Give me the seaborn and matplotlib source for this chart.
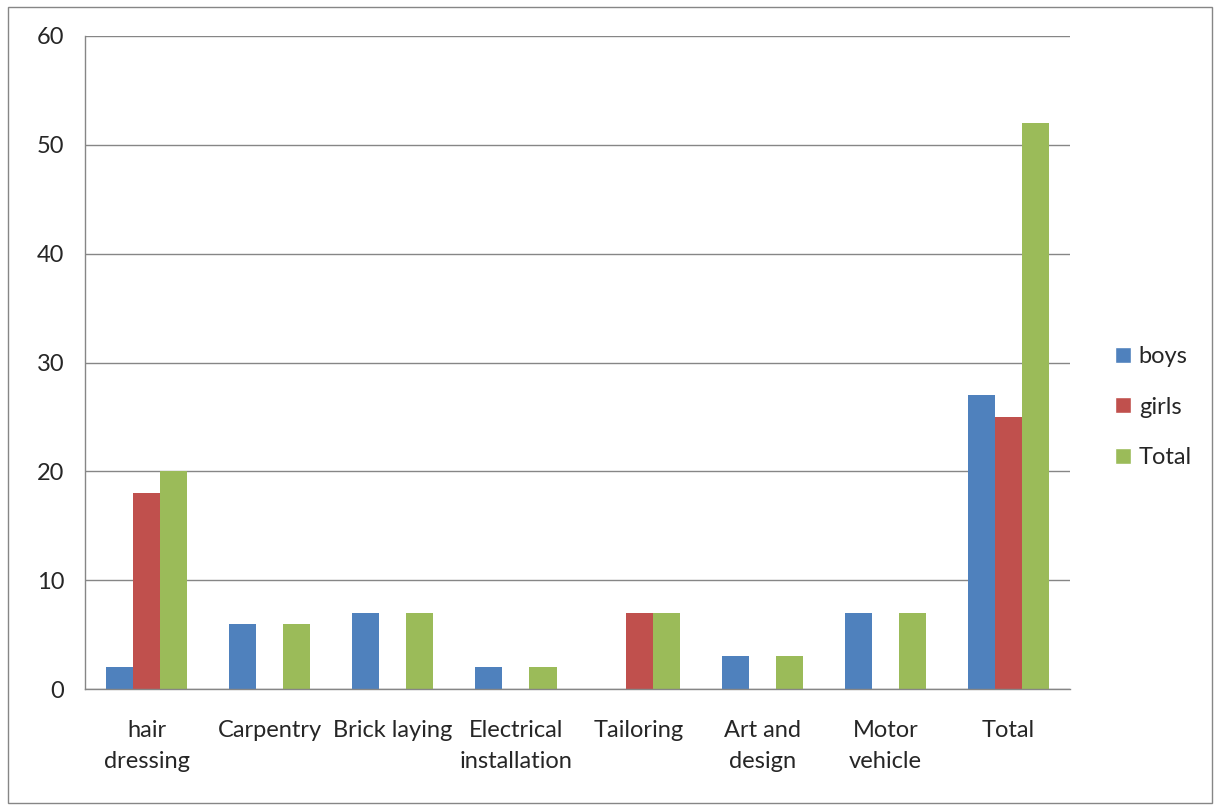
import pandas as pd
import matplotlib.pyplot as plt
import seaborn as sns
from matplotlib.patches import Rectangle, Patch

categories = ['hair\ndressing', 'Carpentry', 'Brick laying', 'Electrical\ninstallation',
              'Tailoring', 'Art and\ndesign', 'Motor\nvehicle', 'Total']
boys = [2, 6, 7, 2, 0, 3, 7, 27]
girls = [18, 0, 0, 0, 7, 0, 0, 25]
total = [20, 6, 7, 2, 7, 3, 7, 52]
series = ['boys', 'girls', 'Total']
colors = ['#4F81BD', '#C0504D', '#9BBB59']

df = pd.DataFrame({'category': categories, 'boys': boys, 'girls': girls, 'Total': total})
long = df.melt(id_vars='category', var_name='series', value_name='value')

sns.set_style('white')
plt.rcParams['font.family'] = ['Lato', 'DejaVu Sans']

fig = plt.figure(figsize=(12.2, 8.1), dpi=100)
ax = fig.add_axes([85/1220, 1 - 689/810, 985/1220, 653/810])

sns.barplot(data=long, x='category', y='value', hue='series', hue_order=series,
            palette=colors, width=0.66, saturation=1, ax=ax, legend=False,
            edgecolor='none')

ax.set_ylim(0, 60)
ax.set_xlim(-0.5, len(categories) - 0.5)
ax.set_yticks(range(0, 61, 10))
ax.yaxis.grid(True, color='#868686', linewidth=1)
ax.set_axisbelow(True)
ax.set_xlabel('')
ax.set_ylabel('')
for s in ['top', 'right']:
    ax.spines[s].set_visible(False)
for s in ['left', 'bottom']:
    ax.spines[s].set_color('#868686')
    ax.spines[s].set_linewidth(1)

ax.set_xticks(range(len(categories)))
ax.set_xticklabels(categories, fontsize=17, linespacing=1.62)
ax.set_xticks([i - 0.5 for i in range(len(categories) + 1)], minor=True)
ax.tick_params(axis='x', which='major', length=0, pad=22)
ax.tick_params(axis='x', which='minor', length=7, color='#868686', direction='out')
ax.tick_params(axis='y', length=7, color='#868686', direction='out', labelsize=17, pad=8)

handles = [Patch(facecolor=c, label=s) for s, c in zip(series, colors)]
fig.legend(handles=handles, loc='center left', bbox_to_anchor=(1094/1220, 1 - 407/810),
           frameon=False, fontsize=17, handlelength=0.65, handleheight=0.65,
           handletextpad=0.35, labelspacing=1.25)

fig.patches.append(Rectangle((8/1220, 7/810), 1204/1220, 796/810, transform=fig.transFigure,
                             fill=False, edgecolor='#868686', linewidth=1))

fig.savefig('out.png', dpi=100)
